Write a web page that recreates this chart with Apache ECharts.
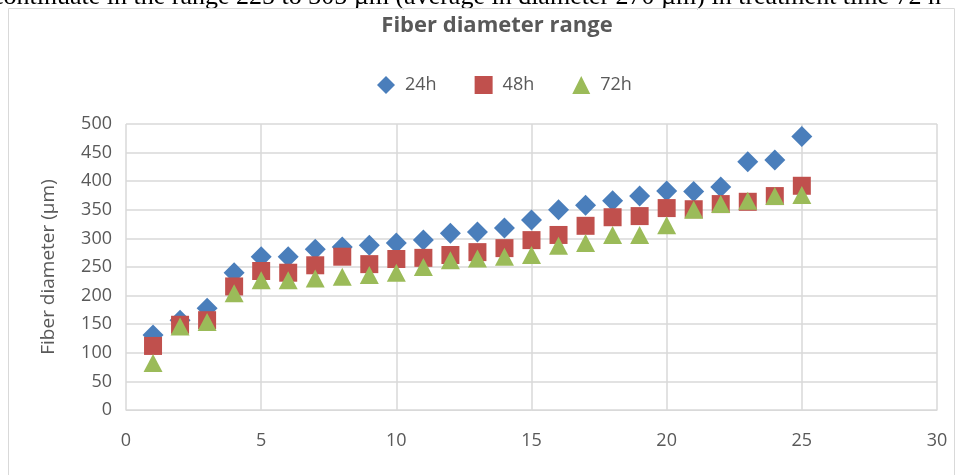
<!DOCTYPE html>
<html>
<head>
<meta charset="utf-8">
<script src="https://cdn.jsdelivr.net/npm/echarts@6/dist/echarts.min.js"></script>
<style>
  html, body { margin: 0; padding: 0; background: #fff; }
  #main { width: 962px; height: 475px; }
</style>
</head>
<body>
<div id="main"></div>
<script>
// sample number on the x axis
const samples = [1, 2, 3, 4, 5, 6, 7, 8, 9, 10, 11, 12, 13, 14, 15, 16, 17, 18, 19, 20, 21, 22, 23, 24, 25]
// fiber diameter (µm) per treatment time
const d24 = [131, 157, 178, 240, 268, 268, 281, 285, 288, 292, 297, 309, 311, 318, 332, 350, 358, 366, 374, 383, 382, 390, 434, 437, 478]
const d48 = [112, 149, 157, 216, 243, 240, 253, 268, 255, 264, 266, 271, 276, 283, 297, 306, 322, 337, 339, 353, 351, 360, 364, 374, 392]
const d72 = [82, 146, 154, 204, 227, 227, 230, 233, 236, 240, 250, 262, 265, 268, 271, 287, 292, 306, 306, 323, 350, 360, 366, 374, 376]
const yTicks = [0, 500, 50]
const xTicks = [0, 30, 5]

// cropped line of page text that sits above the chart in the picture
const caption = 'continuate in the range 225 to 305 µm (average in diameter 270 µm) in treatment time 72 h'

const pairs = (ys) => samples.map((x, i) => [x, ys[i]])

const chart = echarts.init(document.getElementById('main'))
const grey = '#595959'
const font = '"Open Sans", "Noto Sans", sans-serif'

chart.setOption({
  animation: false,
  textStyle: { fontFamily: font },
  graphic: [
    {
      type: 'text',
      x: -8,
      y: -3,
      silent: true,
      style: {
        text: caption,
        font: '26px "Liberation Serif", serif',
        fill: '#000',
        verticalAlign: 'middle'
      }
    },
    {
      type: 'rect',
      shape: { x: 8.5, y: 8.5, width: 946, height: 475 },
      style: { fill: 'none', stroke: '#d9d9d9', lineWidth: 1 },
      silent: true
    }
  ],
  title: {
    text: 'Fiber diameter range',
    left: 492,
    textAlign: 'center',
    top: 10,
    textStyle: { fontSize: 22, fontWeight: 'bold', color: grey, fontFamily: font }
  },
  legend: {
    top: 71,
    left: 372,
    itemWidth: 18,
    itemHeight: 18,
    itemGap: 38,
    textStyle: { fontSize: 18, color: grey, fontFamily: font, padding: [0, 0, 0, 5] }
  },
  grid: { left: 126, right: 25, top: 124, bottom: 65 },
  xAxis: {
    type: 'value',
    min: xTicks[0],
    max: xTicks[1],
    interval: xTicks[2],
    axisLine: { show: true, lineStyle: { color: '#d9d9d9' } },
    axisTick: { show: false },
    axisLabel: { fontSize: 18, color: grey, margin: 22 },
    splitLine: { show: true, lineStyle: { color: '#d9d9d9', width: 1.5 } }
  },
  yAxis: {
    type: 'value',
    name: 'Fiber diameter (µm)',
    nameLocation: 'middle',
    nameGap: 68,
    nameTextStyle: { fontSize: 19, color: grey },
    min: yTicks[0],
    max: yTicks[1],
    interval: yTicks[2],
    axisLine: { show: false },
    axisTick: { show: false },
    axisLabel: { fontSize: 18, color: grey, margin: 14 },
    splitLine: { show: true, lineStyle: { color: '#d9d9d9', width: 1.5 } }
  },
  series: [
    {
      name: '24h',
      type: 'scatter',
      symbol: 'diamond',
      symbolSize: [21, 21],
      itemStyle: { color: '#4a7ebb', opacity: 1 },
      data: pairs(d24)
    },
    {
      name: '48h',
      type: 'scatter',
      symbol: 'rect',
      symbolSize: [18, 18],
      itemStyle: { color: '#c0504d', opacity: 1 },
      data: pairs(d48)
    },
    {
      name: '72h',
      type: 'scatter',
      symbol: 'triangle',
      symbolSize: [19, 18],
      itemStyle: { color: '#9bbb59', opacity: 1 },
      data: pairs(d72)
    }
  ]
})
</script>
</body>
</html>
